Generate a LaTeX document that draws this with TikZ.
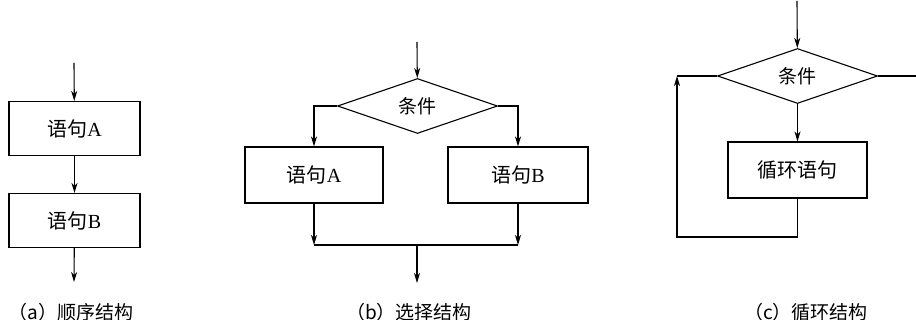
\documentclass[tikz,border=0pt]{standalone}
\usepackage{fontspec}
\setmainfont{Liberation Serif}
\newfontfamily\cjk{Noto Sans CJK SC}
\usetikzlibrary{arrows.meta,shapes.geometric}

\tikzset{
  stmt/.style={draw, rectangle, minimum width=131pt, minimum height=54pt, inner sep=0pt, font=\fontsize{20}{23}\selectfont},
  cond/.style={draw, diamond, aspect=2.9, minimum width=160pt, minimum height=55pt, inner sep=0pt, font=\cjk\fontsize{19}{22}\selectfont},
  caption/.style={font=\cjk\fontsize{19}{22}\selectfont}
}

\begin{document}
\begin{tikzpicture}[x=1pt,y=-1pt,>={Stealth[length=10pt,width=6pt,inset=3pt]},line width=1.1pt,node distance=92pt]
        \useasboundingbox (0,0) rectangle (916,320);

        % (a) sequence
        \coordinate (ain) at (74,63);
        \node[stmt] (aA) at (74.5,128.5) {{\cjk 语句}A};
        \node[stmt] (aB) [below of = aA] {{\cjk 语句}B};
        \coordinate (aout) at (74,282);
        \draw[->] (ain) -- (aA);
        \draw[->] (aA) -- (aB);
        \draw[->] (aB) -- (aout);
        \node[caption] (capa) at (71,312) {（a）顺序结构};

        % (b) selection
        \coordinate (bin) at (417,42);
        \node[cond] (bc) at (417.5,106) {条件};
        \node[stmt, minimum width=138pt, minimum height=56pt] (bA) at (314,175) {{\cjk 语句}A};
        \node[stmt, minimum width=140pt, minimum height=56pt] (bB) at (518,175) {{\cjk 语句}B};
        \coordinate (bj) at (417,245);
        \coordinate (bout) at (417,283);
        \draw[->] (bin) -- (bc);
        \draw[->] (bc.west) -| (bA);
        \draw[->] (bc.east) -| (bB);
        \draw[->] (bA) -- (bA |- bj);
        \draw[->] (bB) -- (bB |- bj);
        \draw (bA |- bj) -- (bB |- bj);
        \draw[->] (bj) -- (bout);
        \node[caption] (capb) at (409,312) {（b）选择结构};

        % (c) loop
        \coordinate (cin) at (797,1);
        \node[cond] (cc) at (797.5,76) {条件};
        \node[stmt, minimum width=139pt, minimum height=56pt, font=\cjk\fontsize{20}{23}\selectfont] (cL) at (797.5,170) {循环语句};
        \coordinate (cout) at (916,76);
        \coordinate (cback) at (677,237);
        \draw[->] (cin) -- (cc);
        \draw (cc.east) -- (cout);
        \draw[->] (cc) -- (cL);
        \draw[->] (cL) |- (cback) -- (cback |- cc.west);
        \draw (cback |- cc.west) -- (cc.west);
        \node[caption] (capc) at (806,312) {（c）循环结构};
\end{tikzpicture}
\end{document}
